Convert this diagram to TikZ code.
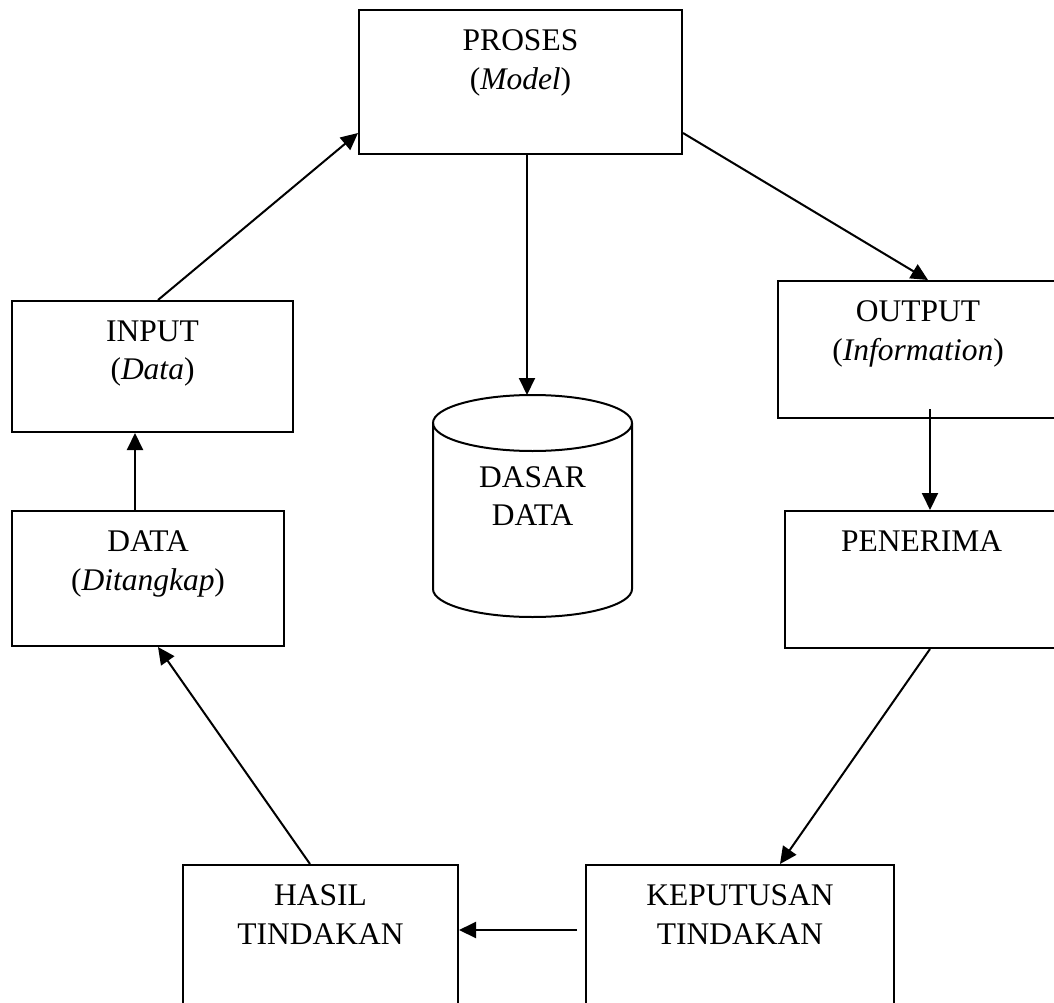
\documentclass[tikz,border=0pt]{standalone}
\usepackage{fontspec}
\setmainfont{Liberation Serif}
\usetikzlibrary{arrows.meta}

\tikzset{
	kotak/.style={draw, line width=2pt, inner sep=0pt},
	teks/.style={anchor=north, align=center, inner sep=0pt,
		font=\fontsize{31.5}{38.5}\selectfont},
	panah/.style={line width=2pt, -{Triangle[length=17pt, width=16pt]}}
}

\begin{document}
\begin{tikzpicture}[x=1pt, y=1pt]

	\useasboundingbox (0,0) rectangle (1054,-1003);

	\foreach \n/\x/\y/\w/\h in {proses/520.5/82/323/144, input/152.5/366.5/281/131,
			data/148/578.5/272/135, output/918/349.5/280/137, penerima/921.5/579.5/273/137,
			keputusan/740/940/308/150, hasil/320.5/940/275/150}
		\node [kotak, minimum width=\w, minimum height=\h] (\n) at (\x,-\y) {};

	\foreach \n/\t in {proses/{PROSES\\(\textit{Model})}, input/{INPUT\\(\textit{Data})},
			data/{DATA\\(\textit{Ditangkap})}, output/{OUTPUT\\(\textit{Information})},
			penerima/{PENERIMA}, keputusan/{KEPUTUSAN\\TINDAKAN}, hasil/{HASIL\\TINDAKAN}}
		\node [teks] (\n-teks) at ([yshift=-20.5]\n.north) {\t};

	% dasar data
	\draw [line width=2pt] (532.5,-423) ellipse [x radius=99.5, y radius=28];
	\draw [line width=2pt] (433,-423) -- (433,-589)
		arc [start angle=180, end angle=360, x radius=99.5, y radius=28] -- (632,-423);
	\coordinate (dasar-atas) at (527,-395);
	\node [teks] (dasar) at (532.5,-466) {DASAR\\DATA};

	\draw [panah] ([xshift=5.5]input.north) -- ([yshift=-51]proses.west);
	\draw [panah] ([yshift=-51]proses.east) -- ([xshift=10]output.north);
	\draw [panah] (proses.south -| dasar-atas) -- (dasar-atas);
	\draw [panah] ([shift={(12,10)}]output.south) -- ([xshift=8.5]penerima.north);
	\draw [panah] ([xshift=8.5]penerima.south) -- ([xshift=40]keputusan.north);
	\draw [panah] ([shift={(-8,-66)}]keputusan.north west) -- ([yshift=-66]hasil.north east);
	\draw [panah] ([xshift=-10.5]hasil.north) -- ([xshift=10]data.south);
	\draw [panah] ([xshift=-13]data.north) -- ([xshift=-17.5]input.south);

\end{tikzpicture}
\end{document}
